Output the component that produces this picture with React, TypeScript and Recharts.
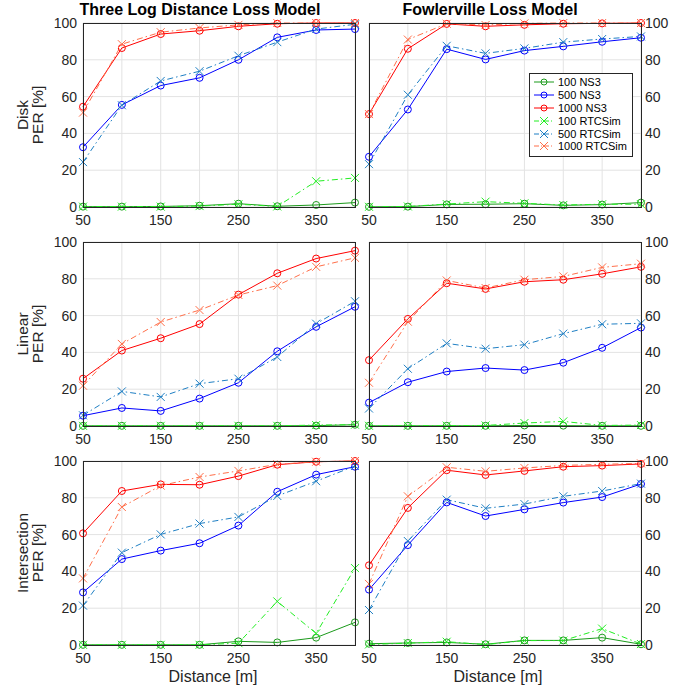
import React from "react";
import { LineChart, Line, XAxis, YAxis, CartesianGrid, Legend } from "recharts";

// distances [m]
const distances = [50, 100, 150, 200, 250, 300, 350, 400];
const xTicks = [50, 100, 150, 200, 250, 300, 350, 400];
const yTicks = [0, 20, 40, 60, 80, 100];

// Disk - Three Log Distance
const diskLogNs3_100 = [0.2, 0.2, 0.3, 0.7, 1.8, 0.4, 1.1, 2.4];
const diskLogNs3_500 = [32.5, 55.5, 66, 70.2, 80, 92.2, 96.2, 96.7];
const diskLogNs3_1000 = [54.5, 86.4, 94, 95.8, 98.2, 99.6, 100, 100];
const diskLogRtc_100 = [0.2, 0.2, 0.2, 0.5, 1.5, 0.3, 14, 15.8];
const diskLogRtc_500 = [24.4, 55.3, 68.5, 73.8, 82.2, 89.6, 96.7, 99.3];
const diskLogRtc_1000 = [51.3, 88.5, 95, 97.3, 99, 100, 100, 100];

// Disk - Fowlerville
const diskFowNs3_100 = [0.1, 0.2, 1.4, 1.5, 1.8, 0.9, 1.3, 2.4];
const diskFowNs3_500 = [27.3, 53, 85.8, 80.2, 85, 87.3, 89.8, 92];
const diskFowNs3_1000 = [50.5, 86, 99.5, 98.2, 99, 99.6, 99.8, 100];
const diskFowRtc_100 = [0.1, 0.3, 1.6, 2.9, 2, 1.1, 1.5, 1.5];
const diskFowRtc_500 = [23.3, 61, 87.6, 83.5, 86.2, 89.6, 91.3, 92.7];
const diskFowRtc_1000 = [50.5, 91, 99.6, 98.9, 99.8, 100, 100, 100];

// Linear - Three Log Distance
const linLogNs3_100 = [0.1, 0.1, 0.1, 0.1, 0.1, 0.1, 0.2, 0.7];
const linLogNs3_500 = [5.6, 9.8, 8.2, 14.9, 23.5, 40.6, 53.9, 64.8];
const linLogNs3_1000 = [25.7, 41, 47.7, 55.4, 71.4, 83, 91, 95.3];
const linLogRtc_100 = [0.1, 0.1, 0.1, 0.1, 0.1, 0.1, 0.5, 0.7];
const linLogRtc_500 = [5.8, 18.8, 15.8, 23, 25.7, 37.5, 55.6, 67.8];
const linLogRtc_1000 = [21.9, 44.6, 56.5, 63, 71.2, 76.3, 86.5, 91.4];

// Linear - Fowlerville
const linFowNs3_100 = [0.1, 0.1, 0.1, 0.1, 0.3, 0.2, 0.1, 0.1];
const linFowNs3_500 = [12.7, 23.8, 29.6, 31.5, 30.4, 34.4, 42.5, 53.5];
const linFowNs3_1000 = [35.8, 58.2, 77.6, 74.5, 78.4, 79.5, 82.7, 86.5];
const linFowRtc_100 = [0.1, 0.1, 0.2, 0.3, 1.6, 2.5, 0.3, 0.5];
const linFowRtc_500 = [9.5, 31.1, 44.9, 42, 44.2, 50.2, 55.3, 55.8];
const linFowRtc_1000 = [23.5, 56.7, 79.1, 75, 79.5, 81.3, 86.2, 88.2];

// Intersection - Three Log Distance
const intLogNs3_100 = [0.1, 0.1, 0.1, 0.1, 2, 1.4, 4, 12.3];
const intLogNs3_500 = [28.6, 46.7, 51.3, 55.3, 64.9, 83.3, 92.6, 96.9];
const intLogNs3_1000 = [60.7, 83.7, 87.3, 87.1, 91.8, 98, 99.6, 100];
const intLogRtc_100 = [0.1, 0.1, 0.1, 0.1, 1, 23.7, 6.3, 41.8];
const intLogRtc_500 = [21.4, 50.2, 60.1, 66, 69.6, 81, 89, 97.3];
const intLogRtc_1000 = [36.2, 75, 86.6, 91.3, 94.6, 98.2, 99.6, 100];

// Intersection - Fowlerville
const intFowNs3_100 = [0.7, 1.1, 1.4, 0.4, 2.5, 2.5, 4, 0.4];
const intFowNs3_500 = [30.1, 54.3, 77.5, 70.1, 73.7, 77.4, 80.4, 87.5];
const intFowNs3_1000 = [43.3, 74.5, 95, 92.4, 94.6, 96.9, 97.5, 98.4];
const intFowRtc_100 = [0.3, 1, 1.8, 0.2, 2.4, 2.4, 8.9, 0.5];
const intFowRtc_500 = [19, 56.5, 79, 74.3, 76.6, 80.8, 83.7, 87.7];
const intFowRtc_1000 = [33.2, 80.8, 96.6, 94.4, 96.2, 97.6, 98.2, 98.7];

const seriesNames = ["100 NS3", "500 NS3", "1000 NS3", "100 RTCSim", "500 RTCSim", "1000 RTCSim"];
const seriesKeys = ["ns100", "ns500", "ns1000", "rtc100", "rtc500", "rtc1000"];
const seriesColors = ["#1b9a1b", "#0000ff", "#ff0000", "#22ee22", "#1f7fc4", "#ff6f4a"];

const FONT = "'Liberation Sans', Arial, Helvetica, sans-serif";
const TXT = "#262626";

const buildRows = (cols: number[][]) =>
  distances.map((d, i) => {
    const row: Record<string, number> = { d };
    seriesKeys.forEach((k, j) => (row[k] = cols[j][i]));
    return row;
  });

const CircleDot = (color: string) => (p: any) => (
  <circle key={p.index} cx={p.cx} cy={p.cy} r={3.5} fill="none" stroke={color} strokeWidth={1} />
);

const CrossDot = (color: string) => (p: any) => (
  <g key={p.index} stroke={color} strokeWidth={1}>
    <line x1={p.cx - 4} y1={p.cy - 4} x2={p.cx + 4} y2={p.cy + 4} />
    <line x1={p.cx - 4} y1={p.cy + 4} x2={p.cx + 4} y2={p.cy - 4} />
  </g>
);

const DASH = "6 3 1.5 3";

const LegendBox = () => (
  <div
    style={{
      border: `1px solid ${TXT}`,
      background: "#fff",
      padding: "2px 4px 3px 3px",
      fontFamily: FONT,
      fontSize: 11,
      color: "#000",
      width: 95,
    }}
  >
    {seriesNames.map((name, i) => {
      const c = seriesColors[i];
      const rtc = i >= 3;
      return (
        <div key={name} style={{ display: "flex", alignItems: "center", height: 12.8 }}>
          <svg width={22} height={10} style={{ marginRight: 3 }}>
            <line x1={1} y1={5} x2={21} y2={5} stroke={c} strokeDasharray={rtc ? "5 2 1 2" : undefined} />
            {rtc ? (
              <g stroke={c}>
                <line x1={7} y1={1} x2={15} y2={9} />
                <line x1={7} y1={9} x2={15} y2={1} />
              </g>
            ) : (
              <circle cx={11} cy={5} r={3} fill="none" stroke={c} />
            )}
          </svg>
          <span>{name}</span>
        </div>
      );
    })}
  </div>
);

const PLOT_W = 272;
const PLOT_H = 184;

type PanelProps = {
  rows: Record<string, number>[];
  left: number;
  top: number;
  side: "left" | "right";
  legend?: boolean;
};

const Panel = ({ rows, left, top, side, legend }: PanelProps) => {
  const yW = side === "left" ? 45 : 40;
  const mTop = 8;
  const mLeft = side === "left" ? 0 : 8;
  const mRight = side === "left" ? 8 : 0;
  const width = mLeft + yW + PLOT_W + mRight;
  const height = mTop + PLOT_H + 25;
  const divLeft = side === "left" ? left - yW : left - mLeft;
  return (
    <>
      <div style={{ position: "absolute", left: divLeft, top: top - mTop }}>
        <LineChart
          width={width}
          height={height}
          data={rows}
          margin={{ top: mTop, right: mRight, left: mLeft, bottom: 0 }}
        >
          <CartesianGrid stroke="#e3e3e3" />
          <XAxis
            dataKey="d"
            type="number"
            domain={[50, 400]}
            ticks={xTicks}
            tickFormatter={(v: number) => ((v - 50) % 100 === 0 ? String(v) : "")}
            tickLine={false}
            axisLine={false}
            height={25}
            interval={0}
            tick={{ fill: TXT, fontSize: 14, fontFamily: FONT }}
          />
          <YAxis
            orientation={side}
            type="number"
            domain={[0, 100]}
            ticks={yTicks}
            tickLine={false}
            axisLine={false}
            width={yW}
            interval={0}
            tickSize={side === "left" ? 4 : 2}
            tickMargin={2}
            tick={{ fill: TXT, fontSize: 14, fontFamily: FONT }}
          />
          {seriesKeys.map((k, i) => (
            <Line
              key={k}
              type="linear"
              dataKey={k}
              name={seriesNames[i]}
              stroke={seriesColors[i]}
              strokeWidth={1}
              strokeDasharray={i >= 3 ? DASH : undefined}
              dot={i >= 3 ? CrossDot(seriesColors[i]) : CircleDot(seriesColors[i])}
              activeDot={false}
              isAnimationActive={false}
            />
          ))}
          {legend && (
            <Legend
              layout="vertical"
              align="center"
              verticalAlign="middle"
              content={() => <LegendBox />}
              wrapperStyle={{ left: 529 - divLeft, top: 73 - (top - mTop), width: "auto", height: "auto" }}
            />
          )}
        </LineChart>
      </div>
      <div
        style={{
          position: "absolute",
          left,
          top,
          width: PLOT_W + 1,
          height: PLOT_H + 1,
          border: `1px solid ${TXT}`,
          boxSizing: "border-box",
          pointerEvents: "none",
          marginLeft: -0.5,
          marginTop: -0.5,
        }}
      />
    </>
  );
};

const YLabel = ({ lines, cy }: { lines: string[]; cy: number }) => (
  <div
    style={{
      position: "absolute",
      left: 31 - 60,
      top: cy - 15,
      width: 120,
      height: 30,
      transform: "rotate(-90deg)",
      textAlign: "center",
      fontFamily: FONT,
      fontSize: 15.5,
      lineHeight: "14.5px",
      color: TXT,
    }}
  >
    {lines.map((l) => (
      <div key={l}>{l}</div>
    ))}
  </div>
);

const Text = ({ x, y, children, bold }: { x: number; y: number; children: string; bold?: boolean }) => (
  <div
    style={{
      position: "absolute",
      left: x - 150,
      top: y - 10,
      width: 300,
      textAlign: "center",
      fontFamily: FONT,
      fontSize: bold ? 16 : 16,
      lineHeight: "20px",
      fontWeight: bold ? "bold" : "normal",
      color: bold ? "#000" : TXT,
      whiteSpace: "nowrap",
    }}
  >
    {children}
  </div>
);

const LX = 83;
const RX = 369;
const ROWS = [23, 242, 461];

export default function App() {
  const panels = [
    [
      buildRows([diskLogNs3_100, diskLogNs3_500, diskLogNs3_1000, diskLogRtc_100, diskLogRtc_500, diskLogRtc_1000]),
      buildRows([diskFowNs3_100, diskFowNs3_500, diskFowNs3_1000, diskFowRtc_100, diskFowRtc_500, diskFowRtc_1000]),
    ],
    [
      buildRows([linLogNs3_100, linLogNs3_500, linLogNs3_1000, linLogRtc_100, linLogRtc_500, linLogRtc_1000]),
      buildRows([linFowNs3_100, linFowNs3_500, linFowNs3_1000, linFowRtc_100, linFowRtc_500, linFowRtc_1000]),
    ],
    [
      buildRows([intLogNs3_100, intLogNs3_500, intLogNs3_1000, intLogRtc_100, intLogRtc_500, intLogRtc_1000]),
      buildRows([intFowNs3_100, intFowNs3_500, intFowNs3_1000, intFowRtc_100, intFowRtc_500, intFowRtc_1000]),
    ],
  ];
  const yLabels = [["Disk", "PER [%]"], ["Linear", "PER [%]"], ["Intersection", "PER [%]"]];
  return (
    <div style={{ position: "absolute", left: 0, top: 0, width: 682, height: 687, background: "#fff", overflow: "hidden" }}>
      <Text x={200} y={10} bold>Three Log Distance Loss Model</Text>
      <Text x={490} y={10} bold>Fowlerville Loss Model</Text>
      {panels.map((pair, r) => (
        <React.Fragment key={r}>
          <Panel rows={pair[0]} left={LX} top={ROWS[r]} side="left" />
          <Panel rows={pair[1]} left={RX} top={ROWS[r]} side="right" legend={r === 0} />
          <YLabel lines={yLabels[r]} cy={ROWS[r] + PLOT_H / 2} />
        </React.Fragment>
      ))}
      <Text x={213} y={677}>Distance [m]</Text>
      <Text x={498} y={677}>Distance [m]</Text>
    </div>
  );
}
